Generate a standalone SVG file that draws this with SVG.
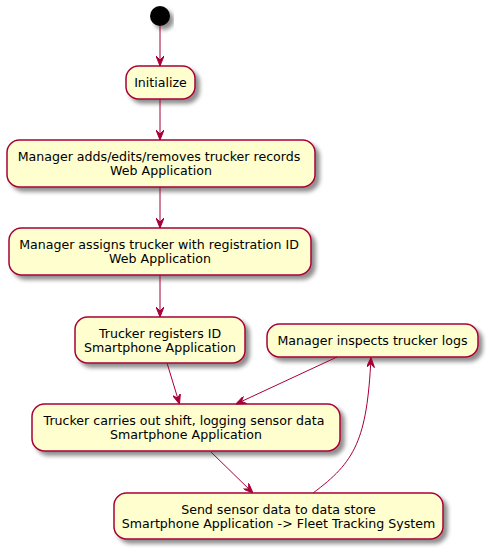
<svg xmlns="http://www.w3.org/2000/svg" width="490" height="552" viewBox="0 0 490 552">
<defs>
<filter id="sh" x="-10%" y="-20%" width="130%" height="160%">
<feGaussianBlur in="SourceAlpha" stdDeviation="2" result="b"/>
<feOffset in="b" dx="4" dy="4" result="o"/>
<feComponentTransfer in="o" result="c"><feFuncA type="linear" slope="0.45"/></feComponentTransfer>
<feMerge><feMergeNode in="c"/><feMergeNode in="SourceGraphic"/></feMerge>
</filter>
<marker id="arr" viewBox="0 0 10 8" refX="10" refY="4" markerWidth="10" markerHeight="8" orient="auto" markerUnits="userSpaceOnUse">
<polygon points="0,0 10,4 0,8 4,4" fill="#A80036" stroke="#A80036" stroke-width="1"/>
</marker>
</defs>
<style>
.n rect{fill:#FEFECE;stroke:#A80036;stroke-width:1.5;filter:url(#sh)}
.n text{font-family:"DejaVu Sans",sans-serif;font-size:12.6px;fill:#000;text-anchor:middle}
.c path{fill:none;stroke:#A80036;stroke-width:1;marker-end:url(#arr)}
</style>
<rect width="490" height="552" fill="#fff"/>
<g id="start"><circle cx="160" cy="16" r="10" fill="#000" filter="url(#sh)"/></g>
<g id="initialize" class="n"><rect x="126" y="66" width="69" height="33" rx="12.5"/><text x="160.5" y="87">Initialize</text></g>
<g id="manage-records" class="n"><rect x="7" y="140" width="308" height="47" rx="12.5"/><text x="159" y="161">Manager adds/edits/removes trucker records</text><text x="161" y="175">Web Application</text></g>
<g id="assign-id" class="n"><rect x="9" y="228" width="302" height="47" rx="12.5"/><text x="159" y="249">Manager assigns trucker with registration ID</text><text x="160" y="263">Web Application</text></g>
<g id="register-id" class="n"><rect x="75" y="317" width="170" height="46" rx="12.5"/><text x="160" y="338">Trucker registers ID</text><text x="160" y="352">Smartphone Application</text></g>
<g id="inspect-logs" class="n"><rect x="267" y="324" width="211" height="33" rx="12.5"/><text x="372.5" y="345">Manager inspects trucker logs</text></g>
<g id="shift" class="n"><rect x="32" y="404" width="308" height="47" rx="12.5"/><text x="184" y="425">Trucker carries out shift, logging sensor data</text><text x="186" y="439">Smartphone Application</text></g>
<g id="send-data" class="n"><rect x="114" y="493" width="329" height="46" rx="12.5"/><text x="278.5" y="514">Send sensor data to data store</text><text x="278.5" y="528">Smartphone Application -&gt; Fleet Tracking System</text></g>
<g id="connectors" class="c">
<path d="M160,26 L160,66"/>
<path d="M160,99 L160,140"/>
<path d="M160,187 L160,228"/>
<path d="M160,275 L160,317"/>
<path d="M167,363 L179.5,404"/>
<path d="M337,357 L236,404"/>
<path d="M211,452 L253,493"/>
<path d="M313,493 C355,462 367,440 371,357.5"/>
</g>
</svg>
